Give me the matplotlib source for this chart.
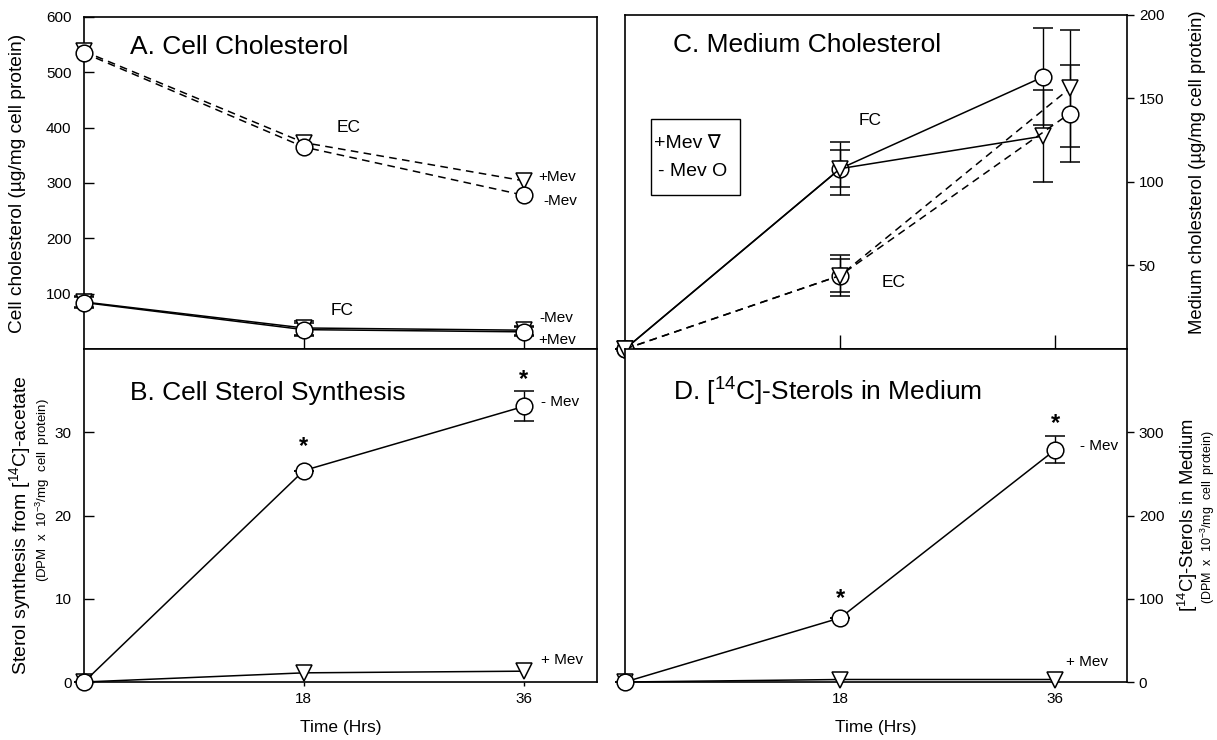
import matplotlib
matplotlib.use("Agg")
import matplotlib.pyplot as plt
from matplotlib.patches import Rectangle

plt.rcParams['font.family'] = ['Liberation Sans', 'DejaVu Sans']
plt.rcParams['mathtext.default'] = 'regular'

# ---------------- data ----------------
t = [0, 18, 36]

# Panel A: cell cholesterol (ug/mg cell protein)
a_ec_minus = [535, 365, 278]
a_ec_plus = [538, 373, 304]
a_fc_minus = [84, 35, 31]
a_fc_plus = [85, 38, 34]
a_fc_err = [10, 12, 8]

# Panel B: sterol synthesis (DPM x 10^-3 / mg)
b_minus = [0, 25.4, 33.1]
b_minus_err = [0, 0, 1.8]
b_plus = [0, 1.1, 1.3]
b_star_y = [28.3, 36.3]

# Panel C: medium cholesterol
c_t_fc = [0, 18, 35]
c_t_ec = [0, 18, 37.2]
c_fc_minus = [0, 108, 163]
c_fc_minus_err = [0, 16, 29]
c_fc_plus = [0, 108, 127.5]
c_fc_plus_err = [0, 11, 27.5]
c_ec_minus = [0, 44, 141]
c_ec_minus_err = [0, 12, 29]
c_ec_plus = [0, 44, 156]
c_ec_plus_err = [0, 10, 35]

# Panel D: [14C]-sterols in medium
d_minus = [0, 77, 279]
d_minus_err = [0, 0, 16]
d_plus = [0, 3, 3]
d_star_y = [100, 310]

xticks = [18, 36]

# ---------------- layout ----------------
W, H = 1217, 740
fig = plt.figure(figsize=(W / 100, H / 100), dpi=100)

def ax_at(x0, y0, x1, y1):
    return fig.add_axes([x0 / W, 1 - y1 / H, (x1 - x0) / W, (y1 - y0) / H])

def ftext(x, y, s, **kw):
    fig.text(x / W, 1 - y / H, s, **kw)

axA = ax_at(84, 17, 597, 349)
axB = ax_at(84, 349, 597, 682)
axC = ax_at(625, 15, 1127, 349)
axD = ax_at(625, 349, 1127, 682)

ms = 12
lw = 1.1
dash = (0, (5, 3.5))
mk = dict(mfc='white', mec='black', mew=1.1, ms=ms, color='black', lw=lw)
eb = dict(capsize=7, elinewidth=1, capthick=1, zorder=3)

for ax in (axA, axB, axC, axD):
    ax.set_xlim(0, 42)
    for s in ax.spines.values():
        s.set_linewidth(1.2)
    ax.set_xticks(xticks)
    ax.tick_params(labelsize=11, width=1)

# ---- A ----
axA.set_ylim(0, 600)
axA.plot(t, a_ec_plus, linestyle=dash, marker='v', zorder=3, **mk)
axA.plot(t, a_ec_minus, linestyle=dash, marker='o', zorder=3, **mk)
axA.errorbar(t, a_fc_plus, yerr=a_fc_err, linestyle='-', marker='v', **eb, **mk)
axA.errorbar(t, a_fc_minus, yerr=a_fc_err, linestyle='-', marker='o', **eb, **mk)
axA.set_yticks([100, 200, 300, 400, 500, 600])
axA.tick_params(axis='y', direction='in', length=7, pad=9)
axA.tick_params(axis='x', direction='in', length=10, labelbottom=False)
ftext(18, 183, 'Cell cholesterol (µg/mg cell protein)', fontsize=13.8, rotation=90,
      ha='center', va='center')
axA.text(0.09, 0.909, 'A. Cell Cholesterol', transform=axA.transAxes, fontsize=19, va='center')
axA.text(21.7, 400, 'EC', fontsize=12.5, ha='center', va='center')
axA.text(21.1, 70, 'FC', fontsize=12.5, ha='center', va='center')
axA.text(37.2, 311, '+Mev', fontsize=11, va='center')
axA.text(37.6, 268, '-Mev', fontsize=11, va='center')
axA.text(37.3, 56, '-Mev', fontsize=11, va='center')
axA.text(37.2, 16, '+Mev', fontsize=11, va='center')

# ---- B ----
axB.set_ylim(0, 40)
axB.errorbar(t, b_minus, yerr=b_minus_err, linestyle='-', marker='o', **eb, **mk)
axB.plot(t, b_plus, linestyle='-', marker='v', zorder=3, **mk)
axB.set_yticks([0, 10, 20, 30])
axB.tick_params(axis='y', direction='in', length=7, pad=9)
axB.tick_params(axis='x', direction='out', length=3, pad=4)
axB.set_xlabel('Time (Hrs)', fontsize=12.5, labelpad=10)
ftext(20, 525, 'Sterol synthesis from [$^{14}$C]-acetate', fontsize=14, rotation=90,
      ha='center', va='center')
ftext(43, 490, '(DPM  x  10$^{-3}$/mg  cell  protein)', fontsize=9.5, rotation=90,
      ha='center', va='center')
axB.text(0.09, 0.868, 'B. Cell Sterol Synthesis', transform=axB.transAxes, fontsize=19, va='center')
for xx, yy in zip(xticks, b_star_y):
    axB.text(xx, yy, '*', fontsize=17, ha='center', va='center', fontweight='bold')
axB.text(37.4, 33.6, '- Mev', fontsize=11, va='center')
axB.text(37.4, 2.6, '+ Mev', fontsize=11, va='center')

# ---- C ----
axC.set_ylim(0, 200)
axC.errorbar(c_t_fc, c_fc_minus, yerr=c_fc_minus_err, linestyle='-', marker='o', **eb, **mk)
axC.errorbar(c_t_fc, c_fc_plus, yerr=c_fc_plus_err, linestyle='-', marker='v', **eb, **mk)
axC.errorbar(c_t_ec, c_ec_minus, yerr=c_ec_minus_err, linestyle=dash, marker='o', **eb, **mk)
axC.errorbar(c_t_ec, c_ec_plus, yerr=c_ec_plus_err, linestyle=dash, marker='v', **eb, **mk)
axC.set_yticks([50, 100, 150, 200])
axC.yaxis.tick_right()
axC.tick_params(axis='y', direction='out', length=5, left=False, right=True)
axC.tick_params(axis='x', direction='in', length=10, labelbottom=False)
ftext(1197, 172, 'Medium cholesterol (µg/mg cell protein)', fontsize=13.3, rotation=90,
      ha='center', va='center')
axC.text(0.095, 0.91, 'C. Medium Cholesterol', transform=axC.transAxes, fontsize=19, va='center')
axC.text(20.5, 137, 'FC', fontsize=12.5, ha='center', va='center')
axC.text(22.5, 40, 'EC', fontsize=12.5, ha='center', va='center')
axC.add_patch(Rectangle((2.18, 92), 7.45, 46, fill=False, ec='black', lw=1, zorder=4))
axC.text(2.4, 123, '+Mev \u2207', fontsize=14, va='center')
axC.text(2.75, 106, '- Mev O', fontsize=14, va='center')

# ---- D ----
axD.set_ylim(0, 400)
axD.errorbar(t, d_minus, yerr=d_minus_err, linestyle='-', marker='o', **eb, **mk)
axD.plot(t, d_plus, linestyle='-', marker='v', zorder=3, **mk)
axD.set_yticks([0, 100, 200, 300])
axD.yaxis.tick_right()
axD.tick_params(axis='y', direction='out', length=5, left=False, right=True)
axD.tick_params(axis='x', direction='out', length=3, pad=4)
axD.set_xlabel('Time (Hrs)', fontsize=12.5, labelpad=10)
ftext(1188, 515, '[$^{14}$C]-Sterols in Medium', fontsize=13.3, rotation=90,
      ha='center', va='center')
ftext(1208, 517, '(DPM  x  10$^{-3}$/mg  cell  protein)', fontsize=9, rotation=90,
      ha='center', va='center')
axD.text(0.095, 0.871, 'D. [$^{14}$C]-Sterols in Medium', transform=axD.transAxes, fontsize=19, va='center')
for xx, yy in zip(xticks, d_star_y):
    axD.text(xx, yy, '*', fontsize=17, ha='center', va='center', fontweight='bold')
axD.text(38.1, 283, '- Mev', fontsize=11, va='center')
axD.text(36.9, 24, '+ Mev', fontsize=11, va='center')

# let markers sit on the spines without clipping
for ax in (axA, axB, axC, axD):
    for ln in ax.lines:
        ln.set_clip_on(False)
    for c in ax.collections:
        c.set_clip_on(False)

fig.savefig('out.png', dpi=100)
